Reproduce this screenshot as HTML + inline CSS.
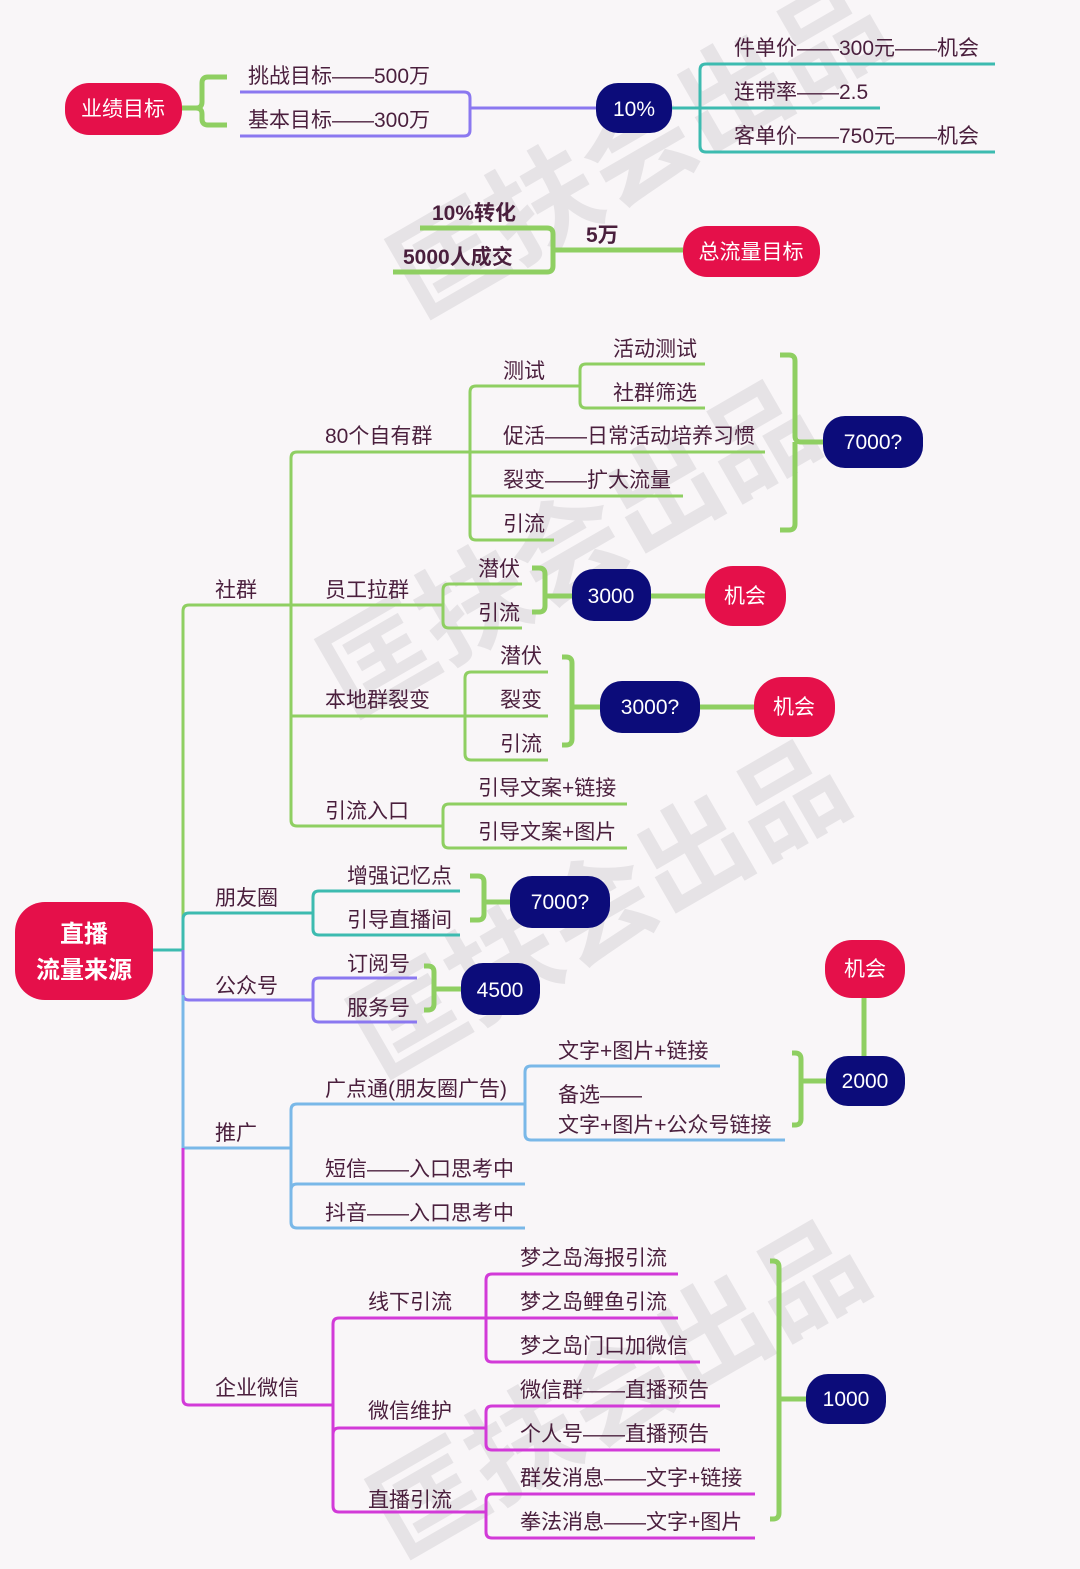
<!DOCTYPE html>
<html><head><meta charset="utf-8"><style>
html,body{margin:0;padding:0;background:#f9f6f8;}
svg{display:block}
text{font-family:"Liberation Sans","Noto Sans CJK SC",sans-serif;font-size:21px;fill:#4a1f3d}
.w{fill:#fff}
.b{font-weight:bold}
.g{stroke:#8fcf62;stroke-width:3;fill:none}
.gb{stroke:#8fcf62;stroke-width:5;fill:none;stroke-linejoin:round}
.p{stroke:#8b78f0;stroke-width:3;fill:none}
.t{stroke:#3dbbb0;stroke-width:3;fill:none}
.bl{stroke:#7ab8e8;stroke-width:3;fill:none}
.m{stroke:#d23ad8;stroke-width:3;fill:none}
.wm{font-size:110px;font-weight:bold;fill:#e6e3e6}
</style></head><body>
<svg width="1080" height="1569" viewBox="0 0 1080 1569" xmlns="http://www.w3.org/2000/svg">
<!-- watermarks -->
<text class="wm" transform="translate(420,320) rotate(-30)">匡扶会出品</text>
<text class="wm" transform="translate(350,720) rotate(-30)">匡扶会出品</text>
<text class="wm" transform="translate(380,1080) rotate(-30)">匡扶会出品</text>
<text class="wm" transform="translate(400,1560) rotate(-30)">匡扶会出品</text>

<!-- top section -->
<rect x="65" y="83" width="117" height="52" rx="24" fill="#e5104a"/>
<text class="w" x="123" y="116" text-anchor="middle">业绩目标</text>
<path class="gb" d="M182 108 H200 M227 77 H208 Q202 77 202 83 V102 Q202 108 196 108 Q202 108 202 114 V119 Q202 125 208 125 H227"/>
<text x="248" y="83">挑战目标——500万</text>
<text x="248" y="127">基本目标——300万</text>
<path class="p" d="M240 92 H464 Q470 92 470 98 V130 Q470 136 464 136 H240 M470 108 H596"/>
<rect x="596" y="83" width="76" height="50" rx="22" fill="#0c0c7a"/>
<text class="w" x="634" y="116" text-anchor="middle">10%</text>
<path class="t" d="M672 108 H700 M995 64 H706 Q700 64 700 70 V146 Q700 152 706 152 H995 M700 108 H880"/>
<text x="734" y="55">件单价——300元——机会</text>
<text x="734" y="99">连带率——2.5</text>
<text x="734" y="143">客单价——750元——机会</text>

<text class="b" x="432" y="220">10%转化</text>
<text class="b" x="403" y="264">5000人成交</text>
<path class="gb" d="M420 228 H547 Q553 228 553 234 V266 Q553 272 547 272 H393 M553 250 H683"/>
<text class="b" x="586" y="242">5万</text>
<rect x="683" y="226" width="137" height="51" rx="24" fill="#e5104a"/>
<text class="w" x="751" y="259" text-anchor="middle">总流量目标</text>

<!-- root -->
<rect x="15" y="902" width="138" height="98" rx="30" fill="#e5104a"/>
<text class="w b" x="84" y="942" text-anchor="middle" style="font-size:24px">直播</text>
<text class="w b" x="84" y="978" text-anchor="middle" style="font-size:24px">流量来源</text>
<path class="t" d="M153 950 H183"/>
<path class="g" d="M183 950 V611 Q183 605 189 605 H291"/>
<path class="t" d="M183 950 V919 Q183 913 189 913 H313"/>
<path class="p" d="M183 950 V994 Q183 1000 189 1000 H313"/>
<path class="bl" d="M183 995 V1148 H291"/>
<path class="m" d="M183 1148 V1399 Q183 1405 189 1405 H333"/>
<text x="215" y="597">社群</text>
<text x="215" y="905">朋友圈</text>
<text x="215" y="993">公众号</text>
<text x="215" y="1140">推广</text>
<text x="215" y="1395">企业微信</text>

<!-- 社群 -->
<path class="g" d="M291 605 V458 Q291 452 297 452 H470 M291 605 V820 Q291 826 297 826 H443 M291 605 H443 M291 716 H465"/>
<text x="325" y="443">80个自有群</text>
<text x="325" y="597">员工拉群</text>
<text x="325" y="707">本地群裂变</text>
<text x="325" y="818">引流入口</text>
<path class="g" d="M470 452 V392 Q470 386 476 386 H580 M470 452 V534 Q470 540 476 540 H554 M470 452 H765 M470 496 H683"/>
<path class="g" d="M580 386 V370 Q580 364 586 364 H705 M580 386 V402 Q580 408 586 408 H705"/>
<text x="503" y="378">测试</text>
<text x="613" y="356">活动测试</text>
<text x="613" y="400">社群筛选</text>
<text x="503" y="443">促活——日常活动培养习惯</text>
<text x="503" y="487">裂变——扩大流量</text>
<text x="503" y="531">引流</text>
<path class="gb" d="M780 355 H789 Q795 355 795 361 V436 Q795 442 801 442 H823 M795 442 V524 Q795 530 789 530 H780"/>
<rect x="823" y="416" width="100" height="52" rx="22" fill="#0c0c7a"/>
<text class="w" x="873" y="449" text-anchor="middle">7000?</text>

<path class="g" d="M443 605 V590 Q443 584 449 584 H522 M443 605 V622 Q443 628 449 628 H522"/>
<text x="478" y="576">潜伏</text>
<text x="478" y="620">引流</text>
<path class="gb" d="M532 568 H539 Q545 568 545 574 V596 H572 M545 596 V606 Q545 612 539 612 H532"/>
<rect x="572" y="569" width="79" height="52" rx="22" fill="#0c0c7a"/>
<text class="w" x="611" y="603" text-anchor="middle">3000</text>
<path class="gb" d="M651 596 H705"/>
<rect x="705" y="566" width="81" height="60" rx="28" fill="#e5104a"/>
<text class="w" x="745" y="603" text-anchor="middle">机会</text>

<path class="g" d="M465 716 V678 Q465 672 471 672 H548 M465 716 V754 Q465 760 471 760 H548 M465 716 H548"/>
<text x="500" y="663">潜伏</text>
<text x="500" y="707">裂变</text>
<text x="500" y="751">引流</text>
<path class="gb" d="M562 657 H566 Q572 657 572 663 V707 H600 M572 707 V739 Q572 745 566 745 H562"/>
<rect x="600" y="681" width="100" height="52" rx="22" fill="#0c0c7a"/>
<text class="w" x="650" y="714" text-anchor="middle">3000?</text>
<path class="gb" d="M700 707 H754"/>
<rect x="754" y="677" width="81" height="60" rx="28" fill="#e5104a"/>
<text class="w" x="794" y="714" text-anchor="middle">机会</text>

<path class="g" d="M443 826 V810 Q443 804 449 804 H627 M443 826 V842 Q443 848 449 848 H627"/>
<text x="478" y="795">引导文案+链接</text>
<text x="478" y="839">引导文案+图片</text>

<!-- 朋友圈 -->
<path class="t" d="M313 913 V897 Q313 891 319 891 H460 M313 913 V929 Q313 935 319 935 H460"/>
<text x="347" y="883">增强记忆点</text>
<text x="347" y="927">引导直播间</text>
<path class="gb" d="M470 876 H478 Q484 876 484 882 V902 H510 M484 902 V914 Q484 920 478 920 H470"/>
<rect x="510" y="876" width="100" height="52" rx="22" fill="#0c0c7a"/>
<text class="w" x="560" y="909" text-anchor="middle">7000?</text>

<!-- 公众号 -->
<path class="p" d="M313 1000 V984 Q313 978 319 978 H417 M313 1000 V1016 Q313 1022 319 1022 H417"/>
<text x="347" y="971">订阅号</text>
<text x="347" y="1015">服务号</text>
<path class="gb" d="M424 966 H428 Q434 966 434 972 V989 H461 M434 989 V1004 Q434 1010 428 1010 H424"/>
<rect x="461" y="963" width="79" height="52" rx="22" fill="#0c0c7a"/>
<text class="w" x="500" y="997" text-anchor="middle">4500</text>

<!-- 推广 -->
<path class="bl" d="M291 1148 V1110 Q291 1104 297 1104 H525 M291 1148 V1222 Q291 1228 297 1228 H525 M291 1148 V1190 Q291 1184 297 1184 H525"/>
<text x="325" y="1096">广点通(朋友圈广告)</text>
<text x="325" y="1176">短信——入口思考中</text>
<text x="325" y="1220">抖音——入口思考中</text>
<path class="bl" d="M525 1104 V1072 Q525 1066 531 1066 H720 M525 1104 V1134 Q525 1140 531 1140 H785"/>
<text x="558" y="1058">文字+图片+链接</text>
<text x="558" y="1102">备选——</text>
<text x="558" y="1132">文字+图片+公众号链接</text>
<path class="gb" d="M792 1053 H795 Q801 1053 801 1059 V1081 H826 M801 1081 V1119 Q801 1125 795 1125 H792"/>
<path class="gb" d="M864 998 V1056"/>
<rect x="825" y="940" width="80" height="58" rx="27" fill="#e5104a"/>
<text class="w" x="865" y="976" text-anchor="middle">机会</text>
<rect x="826" y="1056" width="79" height="50" rx="22" fill="#0c0c7a"/>
<text class="w" x="865" y="1088" text-anchor="middle">2000</text>

<!-- 企业微信 -->
<path class="m" d="M333 1405 V1324 Q333 1318 339 1318 H486 M333 1405 V1506 Q333 1512 339 1512 H486 M333 1405 V1434 Q333 1428 339 1428 H486"/>
<text x="368" y="1309">线下引流</text>
<text x="368" y="1418">微信维护</text>
<text x="368" y="1507">直播引流</text>
<path class="m" d="M486 1318 V1280 Q486 1274 492 1274 H678 M486 1318 V1356 Q486 1362 492 1362 H700 M486 1318 H678"/>
<text x="520" y="1265">梦之岛海报引流</text>
<text x="520" y="1309">梦之岛鲤鱼引流</text>
<text x="520" y="1353">梦之岛门口加微信</text>
<path class="m" d="M486 1428 V1412 Q486 1406 492 1406 H720 M486 1428 V1444 Q486 1450 492 1450 H720"/>
<text x="520" y="1397">微信群——直播预告</text>
<text x="520" y="1441">个人号——直播预告</text>
<path class="m" d="M486 1512 V1500 Q486 1494 492 1494 H755 M486 1512 V1532 Q486 1538 492 1538 H755"/>
<text x="520" y="1485">群发消息——文字+链接</text>
<text x="520" y="1529">拳法消息——文字+图片</text>
<path class="gb" d="M770 1261 H773 Q779 1261 779 1267 V1399 H806 M779 1399 V1513 Q779 1519 773 1519 H770"/>
<rect x="806" y="1374" width="80" height="50" rx="22" fill="#0c0c7a"/>
<text class="w" x="846" y="1406" text-anchor="middle">1000</text>
</svg>
</body></html>
